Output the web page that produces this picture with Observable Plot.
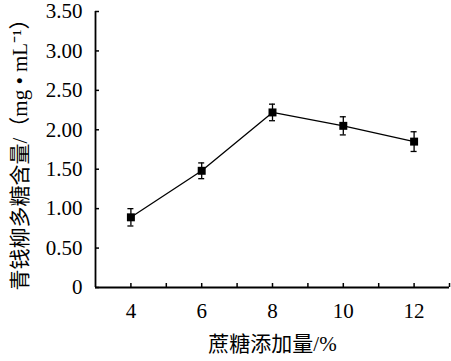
<!DOCTYPE html>
<html>
<head>
<meta charset="utf-8">
<script src="https://cdn.jsdelivr.net/npm/d3@7"></script>
<script src="https://cdn.jsdelivr.net/npm/@observablehq/plot@0.6"></script>
<style>
  html, body { margin: 0; padding: 0; background: #fff; }
  svg { display: block; }
</style>
</head>
<body>
<div id="chart"></div>
<script>
// Data
const sucrose = [4, 6, 8, 10, 12];             // 蔗糖添加量 (%)
const content = [0.89, 1.48, 2.22, 2.05, 1.85]; // 青钱柳多糖含量 (mg·mL-1)
const errors  = [0.11, 0.10, 0.105, 0.115, 0.125];

const xLabelTicks = [4, 6, 8, 10, 12];
const xMinorTicks = [4, 5, 6, 7, 8, 9, 10, 11, 12, 13];
const yTicks = [0, 0.5, 1, 1.5, 2, 2.5, 3, 3.5];

const xTitle = "蔗糖添加量/%";
const yTitle = "青钱柳多糖含量/（mg • mL⁻¹）";

const rows = sucrose.map((x, i) => ({x, y: content[i], lo: content[i] - errors[i], hi: content[i] + errors[i]}));

const serif = "'Liberation Serif', 'Times New Roman', 'Noto Sans CJK SC', serif";
const capHalf = 0.085;

const chart = Plot.plot({
  width: 451,
  height: 361,
  marginLeft: 95,
  marginTop: 11,
  marginRight: 2,
  marginBottom: 74,
  x: {domain: [3, 13]},
  y: {domain: [0, 3.5]},
  style: {fontFamily: serif, background: "#fff", color: "#000"},
  marks: [
    // inward tick marks
    Plot.axisY(yTicks, {anchor: "left", tickSize: 4, dx: 4, tickFormat: () => "", strokeWidth: 1.5, label: null}),
    Plot.axisX(xMinorTicks, {anchor: "bottom", tickSize: 4, dy: -4, tickFormat: () => "", strokeWidth: 1.5, label: null}),
    // tick labels
    Plot.axisY(yTicks, {anchor: "left", tickSize: 0, tickPadding: 13, fontSize: 21,
      tickFormat: d => d === 0 ? "0" : d.toFixed(2), label: null}),
    Plot.axisX(xLabelTicks, {anchor: "bottom", tickSize: 0, tickPadding: 16, fontSize: 21, label: null}),
    // axis lines
    Plot.ruleX([3], {stroke: "#000", strokeWidth: 1.8}),
    Plot.ruleY([0], {stroke: "#000", strokeWidth: 1.8}),
    // series line
    Plot.line(rows, {x: "x", y: "y", stroke: "#000", strokeWidth: 1.3}),
    // error bars
    Plot.ruleX(rows, {x: "x", y1: "lo", y2: "hi", stroke: "#000", strokeWidth: 1.3}),
    Plot.ruleY(rows, {y: "lo", x1: d => d.x - capHalf, x2: d => d.x + capHalf, stroke: "#000", strokeWidth: 1.3}),
    Plot.ruleY(rows, {y: "hi", x1: d => d.x - capHalf, x2: d => d.x + capHalf, stroke: "#000", strokeWidth: 1.3}),
    // markers
    Plot.dot(rows, {x: "x", y: "y", symbol: "square", r: 4.5, fill: "#000", stroke: "none"}),
    // axis titles
    Plot.text([xTitle], {frameAnchor: "bottom", dy: 57, fontSize: 21, lineAnchor: "middle", textAnchor: "middle", fill: "#000"}),
    Plot.text([yTitle], {frameAnchor: "left", rotate: -90, dx: -75, fontSize: 21, lineAnchor: "middle", textAnchor: "middle", fill: "#000"})
  ]
});
document.getElementById("chart").appendChild(chart);
</script>
</body>
</html>
